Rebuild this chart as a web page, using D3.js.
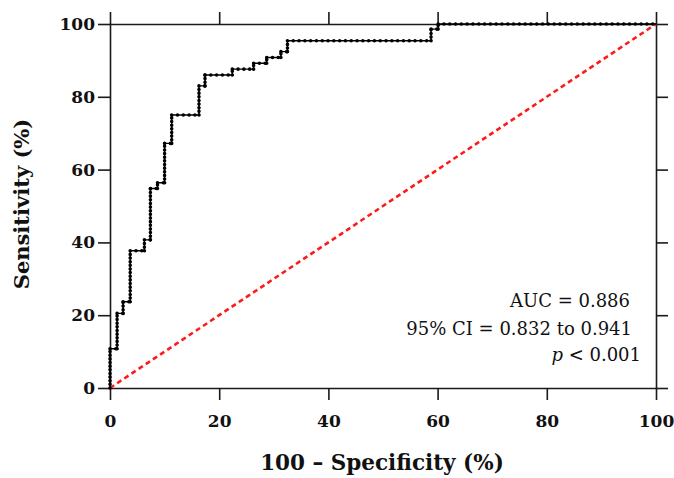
<!DOCTYPE html>
<html>
<head>
<meta charset="utf-8">
<script src="https://cdn.jsdelivr.net/npm/d3@7"></script>
<style>
  body { margin: 0; background: #fff; }
  svg text { font-family: "DejaVu Serif", "Liberation Serif", serif; fill: #111; }
</style>
</head>
<body>
<svg id="chart"></svg>
<script>
// ROC curve corners (100 - specificity, sensitivity) in %
const fpr = [0, 0, 1.3, 2.4, 3.7, 6.3, 7.4, 8.7, 10.0, 11.3, 16.3, 17.4, 22.4, 26.3, 28.7, 31.3, 32.5, 58.8, 60.1, 100];
const tpr = [0, 10.8, 20.5, 23.7, 37.7, 40.7, 54.8, 56.4, 67.2, 75.0, 83.0, 86.0, 87.6, 89.2, 90.8, 92.4, 95.4, 98.6, 100, 100];
const reference = [[0, 0], [100, 100]];
const xTicks = [0, 20, 40, 60, 80, 100];
const yTicks = [0, 20, 40, 60, 80, 100];
const statLines = ["AUC = 0.886", "95% CI = 0.832 to 0.941", "p < 0.001"];

const width = 674, height = 478;
const margin = { top: 24, right: 18, bottom: 90, left: 110 };
const plotW = width - margin.left - margin.right;
const plotH = height - margin.top - margin.bottom;

const svg = d3.select("#chart").attr("width", width).attr("height", height);
const chart = svg.append("g").attr("transform", `translate(${margin.left},${margin.top})`);

const x = d3.scaleLinear().domain([0, 100]).range([0, plotW]);
const y = d3.scaleLinear().domain([0, 100]).range([plotH, 0]);

// frame + ticks on all four sides, labels only bottom/left
const tickLen = 12;
chart.append("g").attr("transform", `translate(0,${plotH})`)
  .call(d3.axisBottom(x).tickValues(xTicks).tickSize(tickLen).tickPadding(15).tickSizeOuter(0));
chart.append("g")
  .call(d3.axisTop(x).tickValues(xTicks).tickSize(tickLen).tickFormat("").tickSizeOuter(0));
chart.append("g")
  .call(d3.axisLeft(y).tickValues(yTicks).tickSize(tickLen).tickPadding(3).tickSizeOuter(0));
chart.append("g").attr("transform", `translate(${plotW},0)`)
  .call(d3.axisRight(y).tickValues(yTicks).tickSize(tickLen).tickFormat("").tickSizeOuter(0));

chart.selectAll(".domain").attr("stroke", "#1a1a1a").attr("stroke-width", 1.6).attr("stroke-linecap", "square");
chart.selectAll(".tick line").attr("stroke", "#1a1a1a").attr("stroke-width", 1.6);
chart.selectAll(".tick text")
  .attr("fill", "#111")
  .style("font-family", '"DejaVu Serif", serif')
  .style("font-size", "17px")
  .style("font-weight", "bold");

// chance line
chart.append("line")
  .attr("x1", x(reference[0][0])).attr("y1", y(reference[0][1]))
  .attr("x2", x(reference[1][0])).attr("y2", y(reference[1][1]))
  .attr("stroke", "#ff1a1a")
  .attr("stroke-width", 2.6)
  .attr("stroke-dasharray", "5 3.6");

// ROC step line
const pts = fpr.map((d, i) => [d, tpr[i]]);
const line = d3.line().x(d => x(d[0])).y(d => y(d[1])).curve(d3.curveStepAfter);
chart.append("path")
  .datum(pts)
  .attr("d", line)
  .attr("fill", "none")
  .attr("stroke", "#000")
  .attr("stroke-width", 1.4);

// beaded markers: separate horizontal / vertical runs
const hSegs = [], vSegs = [];
for (let i = 0; i < pts.length - 1; i++) {
  const a = pts[i], b = pts[i + 1];
  if (b[0] > a[0]) hSegs.push([a[0], a[1], b[0], a[1]]);
  if (b[1] > a[1]) vSegs.push([b[0], a[1], b[0], b[1]]);
}
function beads(segs, gap) {
  chart.append("g").selectAll("line")
    .data(segs)
    .join("line")
    .attr("x1", d => x(d[0])).attr("y1", d => y(d[1]))
    .attr("x2", d => x(d[2])).attr("y2", d => y(d[3]))
    .attr("stroke", "#000")
    .attr("stroke-width", 3.6)
    .attr("stroke-linecap", "round")
    .attr("stroke-dasharray", `0 ${gap}`);
}
beads(hSegs, 5.8);
beads(vSegs, 3.64);

// statistics text
const stats = chart.append("g").style("font-size", "18px");
stats.append("text").attr("x", 520).attr("y", 283).attr("text-anchor", "end").text(statLines[0]);
stats.append("text").attr("x", 522).attr("y", 311).attr("text-anchor", "end").text(statLines[1]);
const pText = stats.append("text").attr("x", 531).attr("y", 337).attr("text-anchor", "end");
pText.append("tspan").style("font-style", "italic").text(statLines[2].slice(0, 1));
pText.append("tspan").text(statLines[2].slice(1));

// axis titles
svg.append("text")
  .attr("x", margin.left + plotW / 2 - 1).attr("y", 470)
  .attr("text-anchor", "middle")
  .style("font-size", "21.5px").style("font-weight", "bold")
  .text("100 \u2013 Specificity (%)");

svg.append("text")
  .attr("transform", `translate(29,${margin.top + plotH / 2 - 2}) rotate(-90)`)
  .attr("text-anchor", "middle")
  .style("font-size", "21px").style("font-weight", "bold")
  .text("Sensitivity (%)");
</script>
</body>
</html>
